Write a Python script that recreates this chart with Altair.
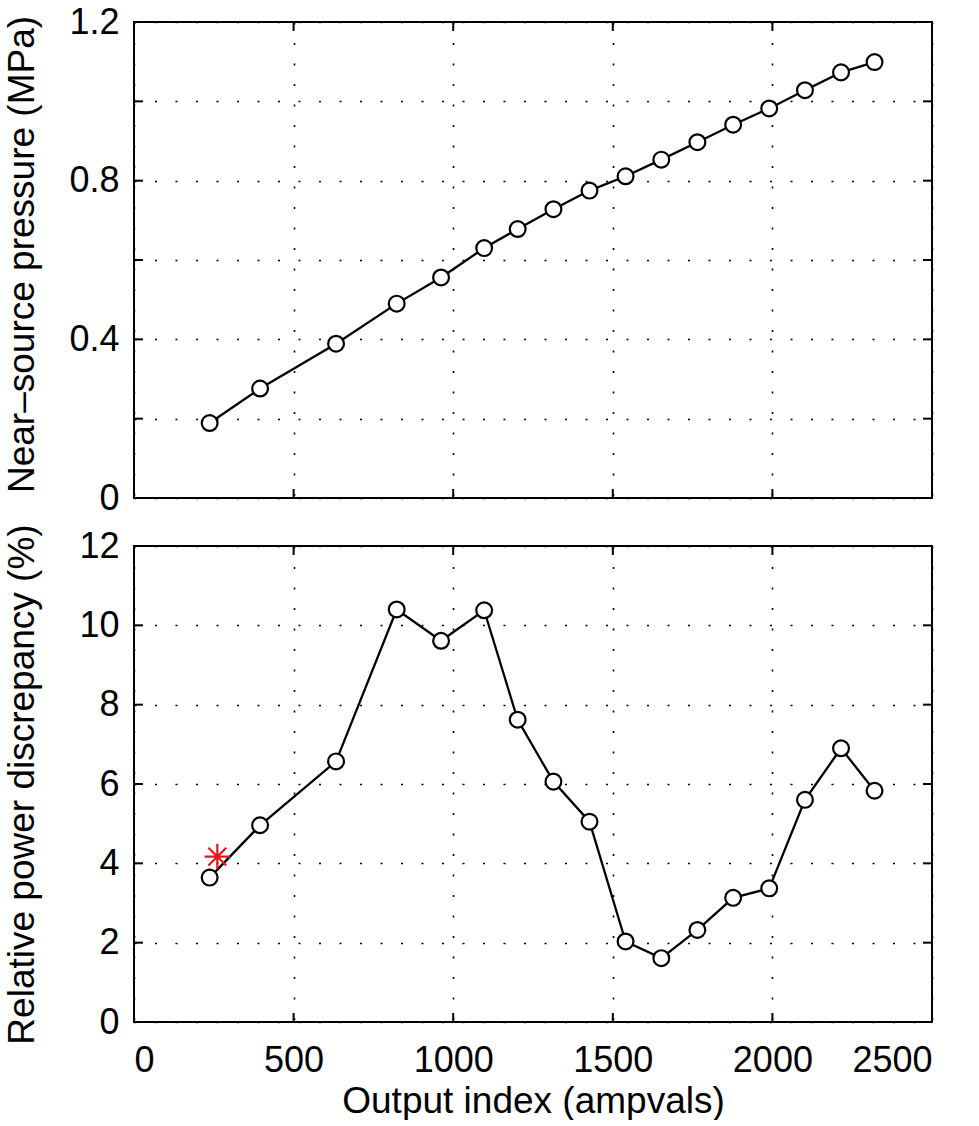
import altair as alt
import pandas as pd

# ---- data ----
ampvals = [237, 395, 633, 823, 962, 1097, 1202, 1314, 1427, 1540, 1652, 1765, 1877, 1990, 2102, 2215, 2320]
pressure = [0.189, 0.276, 0.389, 0.490, 0.556, 0.630, 0.678, 0.728, 0.775, 0.811, 0.853,
            0.897, 0.941, 0.982, 1.028, 1.073, 1.099]
discrepancy = [3.64, 4.96, 6.57, 10.40, 9.61, 10.38, 7.62, 6.06, 5.05, 2.03, 1.61,
               2.32, 3.13, 3.37, 5.60, 6.90, 5.83]
star_x = [261]
star_y = [4.17]

x_ticks = [0, 500, 1000, 1500, 2000, 2500]
p_ticks = [0, 0.2, 0.4, 0.6, 0.8, 1.0, 1.2]
p_labels = ["0", "", "0.4", "", "0.8", "", "1.2"]
d_ticks = [0, 2, 4, 6, 8, 10, 12]

W, H = 798, 476
FONT = "Liberation Sans"
TICK = 9
RED = "#e31a1c"
ASTERISK = "M0,-1L0,1M-1,0L1,0M-0.7,-0.7L0.7,0.7M-0.7,0.7L0.7,-0.7"

df = pd.DataFrame({"ampvals": ampvals, "pressure": pressure, "discrepancy": discrepancy})
df_star = pd.DataFrame({"ampvals": star_x, "discrepancy": star_y})
df_xt = pd.DataFrame({"v": x_ticks})
df_pt = pd.DataFrame({"v": p_ticks})
df_dt = pd.DataFrame({"v": d_ticks})

xscale = alt.Scale(domain=[0, 2500], nice=False, zero=False)
pscale = alt.Scale(domain=[0, 1.2], nice=False)
dscale = alt.Scale(domain=[0, 12], nice=False)

grid_kw = dict(grid=True, gridDash=[2, 18.5], gridColor="black", gridWidth=1.6,
               gridOpacity=1, ticks=False, tickSize=0, domain=False)

label_expr = "[" + ",".join("'%s'" % s for s in p_labels) + "][round(datum.value*5)]"

top_xaxis = alt.Axis(values=x_ticks, labels=False, **grid_kw)
top_yaxis = alt.Axis(values=p_ticks, labelExpr=label_expr, titleX=-93, titleY=H / 2 - 6,
                     labelPadding=15, **grid_kw)
bot_xaxis = alt.Axis(values=x_ticks, format="d", labelPadding=21, titlePadding=5, **grid_kw)
bot_yaxis = alt.Axis(values=d_ticks, format="d", titleX=-93, labelPadding=15, **grid_kw)

TOP_XT = None
TOP_YT = "Near\u2013source pressure (MPa)"
BOT_XT = "Output index (ampvals)"
BOT_YT = "Relative power discrepancy (%)"


def xenc(field, axis, title):
    if title is None:
        return alt.X(field, scale=xscale, axis=axis, title=None)
    return alt.X(field, scale=xscale, axis=axis, title=title)


def tick_layers(ydf, yscale, xaxis, yaxis, xtitle, ytitle):
    rule = dict(color="black", strokeWidth=2)
    xb = alt.Chart(df_xt).mark_rule(**rule).encode(
        x=xenc("v:Q", xaxis, xtitle), y=alt.value(H - TICK), y2=alt.value(H))
    xt = alt.Chart(df_xt).mark_rule(**rule).encode(
        x=xenc("v:Q", xaxis, xtitle), y=alt.value(0), y2=alt.value(TICK))
    yl = alt.Chart(ydf).mark_rule(**rule).encode(
        y=alt.Y("v:Q", scale=yscale, axis=yaxis, title=ytitle), x=alt.value(0), x2=alt.value(TICK))
    yr = alt.Chart(ydf).mark_rule(**rule).encode(
        y=alt.Y("v:Q", scale=yscale, axis=yaxis, title=ytitle), x=alt.value(W - TICK), x2=alt.value(W))
    return [xb, xt, yl, yr]


def circles(base):
    return base.mark_point(shape="circle", filled=True, fill="white", stroke="black",
                           strokeWidth=2.2, size=250, opacity=1)


# ---- top panel ----
top_base = alt.Chart(df).encode(
    x=xenc("ampvals:Q", top_xaxis, TOP_XT),
    y=alt.Y("pressure:Q", scale=pscale, axis=top_yaxis, title=TOP_YT),
)
top = alt.layer(
    top_base.mark_line(color="black", strokeWidth=2.3),
    *tick_layers(df_pt, pscale, top_xaxis, top_yaxis, TOP_XT, TOP_YT),
    circles(top_base),
).properties(width=W, height=H)

# ---- bottom panel ----
bot_base = alt.Chart(df).encode(
    x=xenc("ampvals:Q", bot_xaxis, BOT_XT),
    y=alt.Y("discrepancy:Q", scale=dscale, axis=bot_yaxis, title=BOT_YT),
)
star = alt.Chart(df_star).mark_point(shape=ASTERISK, filled=False, stroke=RED,
                                     strokeWidth=2.2, size=650, opacity=1).encode(
    x=xenc("ampvals:Q", bot_xaxis, BOT_XT),
    y=alt.Y("discrepancy:Q", scale=dscale, axis=bot_yaxis, title=BOT_YT),
)
bottom = alt.layer(
    bot_base.mark_line(color="black", strokeWidth=2.3),
    *tick_layers(df_dt, dscale, bot_xaxis, bot_yaxis, BOT_XT, BOT_YT),
    circles(bot_base),
    star,
).properties(width=W, height=H)

chart = alt.vconcat(top, bottom, spacing=5).properties(
    padding={"left": 1, "top": 3, "right": 10, "bottom": 0},
    background="white",
).configure_view(
    stroke="black", strokeWidth=2
).configure_axis(
    labelFont=FONT, titleFont=FONT, labelFontSize=36, titleFontSize=37,
    labelColor="black", titleColor="black", titleFontWeight="normal",
    labelPadding=15, titlePadding=16,
)

chart.save("out.html", embed_options={"renderer": "svg", "actions": False})
